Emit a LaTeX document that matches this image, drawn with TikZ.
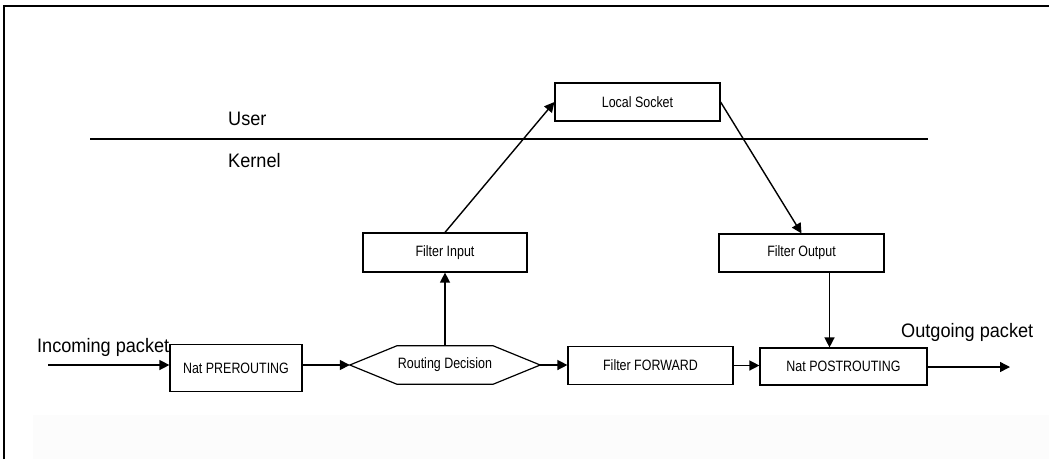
\documentclass[tikz,border=0pt]{standalone}
\usepackage{fontspec}
\setmainfont{Liberation Sans}
\newfontfamily\boxfont{Liberation Sans}[FakeStretch=0.83]
\newfontfamily\labelfont{Liberation Sans}[FakeStretch=0.93]
\usetikzlibrary{arrows.meta}
\begin{document}
\begin{tikzpicture}[x=1pt,y=-1pt,
  stage/.style={draw,line width=1.2pt,inner sep=0pt,minimum width=#1,minimum height=38pt,
    font=\boxfont\fontsize{15}{17}\selectfont},
  stage/.default=165pt,
  biglabel/.style={inner sep=0pt,anchor=base west,font=\labelfont\fontsize{19.5}{22}\selectfont},
  arr/.style={line width=1.4pt,-{Triangle[length=10pt,width=10pt]}},
  plain/.style={line width=1.4pt}]
\useasboundingbox (0,0) rectangle (1049,459);
\fill[white] (0,0) rectangle (1049,459);
\fill[black!1.2] (33,415) rectangle (1049,459);
% outer frame (top and left edges)
\draw[line width=1.6pt] (4,459) -- (4,6) -- (1049,6);

% user / kernel boundary
\coordinate (ukl) at (90,139);
\coordinate (ukr) at (928,139);
\draw[plain] (ukl) -- (ukr);
\node[biglabel] (user) at (228,125) {User};
\node[biglabel] (kernel) at (228,167) {Kernel};

% processing stages
\node[stage=132pt,minimum height=47pt] (pre) at (236,368) {Nat PREROUTING};
\node[inner sep=0pt,minimum width=190pt,minimum height=38pt,
      font=\boxfont\fontsize{15}{17}\selectfont] (rd) at (445,365) {Routing Decision};
\draw[line width=1.2pt] (rd.west) -- ([xshift=47pt]rd.north west) -- ([xshift=-47pt]rd.north east)
  -- (rd.east) -- ([xshift=-47pt]rd.south east) -- ([xshift=47pt]rd.south west) -- cycle;
\node[stage] (fwd) at (650.5,365.5) {Filter FORWARD};
\node[stage=167pt,minimum height=37pt] (post) at (843.5,366.5) {Nat POSTROUTING};
\node[stage=164pt,minimum height=39pt] (fi) at (445,252.5) {Filter Input};
\node[stage=165pt,minimum height=38pt] (fo) at (801.5,253) {Filter Output};
\node[stage=165pt,minimum height=38pt] (ls) at (637.5,102) {Local Socket};

% packet labels
\node[biglabel] (inlbl) at (37,352) {Incoming packet};
\node[biglabel] (outlbl) at (901,337) {Outgoing packet};

% flow
\coordinate (in) at (48,365);
\coordinate (out) at (1010,367);
\draw[arr] (in) -- (in -| pre.west);
\draw[arr] (rd.west -| pre.east) -- (rd.west);
\draw[arr] (rd.east) -- (rd.east -| fwd.west);
\draw[arr] (fwd.east) -- (fwd.east -| post.west);
\draw[arr] (post.east |- out) -- (out);
\draw[arr] (rd.north) -- (fi.south);
\draw[arr] (fi.north) -- (ls.west);
\draw[arr] (ls.east) -- (fo.north);
\draw[arr] ([xshift=28pt]fo.south) -- ([xshift=28pt]fo.south |- post.north);
\end{tikzpicture}
\end{document}
